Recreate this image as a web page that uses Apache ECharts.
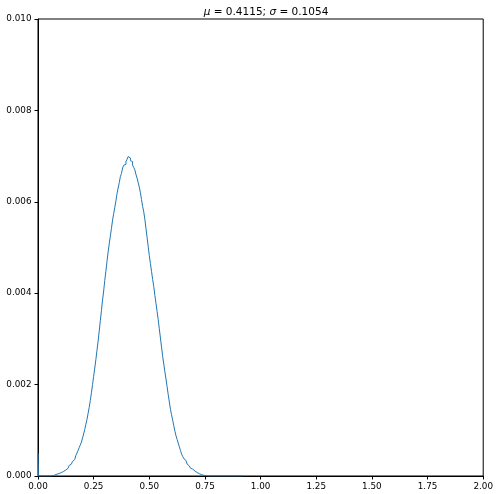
<!DOCTYPE html>
<html>
<head>
<meta charset="utf-8">
<script src="https://cdn.jsdelivr.net/npm/echarts@6/dist/echarts.min.js"></script>
<style>
html,body{margin:0;padding:0;background:#fff;}
#chart{width:496px;height:494px;}
</style>
</head>
<body>
<div id="chart"></div>
<script type="text/javascript">
// bin left edges of the step histogram (last one closes the curve)
var binEdges = [0, 0.002,
  0.055, 0.060, 0.065, 0.070, 0.075, 0.080, 0.085, 0.090, 0.095, 0.100,
  0.105, 0.110, 0.115, 0.120, 0.125, 0.130, 0.135, 0.140, 0.145, 0.150,
  0.155, 0.160, 0.165, 0.170, 0.175, 0.180, 0.185, 0.190, 0.195, 0.200,
  0.205, 0.210, 0.215, 0.220, 0.225, 0.230, 0.235, 0.240, 0.245, 0.250,
  0.255, 0.260, 0.265, 0.270, 0.275, 0.280, 0.285, 0.290, 0.295, 0.300,
  0.305, 0.310, 0.315, 0.320, 0.325, 0.330, 0.335, 0.340, 0.345, 0.350,
  0.355, 0.360, 0.365, 0.370, 0.375, 0.380, 0.385, 0.390, 0.395, 0.400,
  0.405, 0.410, 0.415, 0.420, 0.425, 0.430, 0.435, 0.440, 0.445, 0.450,
  0.455, 0.460, 0.465, 0.470, 0.475, 0.480, 0.485, 0.490, 0.495, 0.500,
  0.505, 0.510, 0.515, 0.520, 0.525, 0.530, 0.535, 0.540, 0.545, 0.550,
  0.555, 0.560, 0.565, 0.570, 0.575, 0.580, 0.585, 0.590, 0.595, 0.600,
  0.605, 0.610, 0.615, 0.620, 0.625, 0.630, 0.635, 0.640, 0.645, 0.650,
  0.655, 0.660, 0.665, 0.670, 0.675, 0.680, 0.685, 0.690, 0.695, 0.700,
  0.705, 0.710, 0.715, 0.720, 0.725, 0.730, 0.735, 0.740, 0.745, 0.750,
  0.755, 0.760, 0.765, 0.770, 0.775,
  0.92];
// bin heights, in thousandths
var binHeightsE3 = [0.5, 0,
  0.002, 0.005, 0.01, 0.02, 0.03, 0.04, 0.05, 0.055, 0.065, 0.075,
  0.085, 0.10, 0.115, 0.13, 0.15, 0.17, 0.20, 0.23, 0.26, 0.29,
  0.32, 0.36, 0.40, 0.45, 0.50, 0.56, 0.62, 0.68, 0.74, 0.83,
  0.92, 1.02, 1.13, 1.24, 1.37, 1.50, 1.65, 1.82, 2.00, 2.18,
  2.36, 2.55, 2.75, 2.95, 3.17, 3.40, 3.62, 3.85, 4.05, 4.28,
  4.48, 4.70, 4.90, 5.08, 5.25, 5.42, 5.60, 5.74, 5.88, 6.02,
  6.18, 6.30, 6.42, 6.55, 6.62, 6.74, 6.80, 6.82, 6.88, 6.93,
  6.99, 6.96, 6.90, 6.88, 6.80, 6.75, 6.70, 6.60, 6.52, 6.42,
  6.32, 6.20, 6.05, 5.90, 5.78, 5.62, 5.42, 5.22, 5.02, 4.82,
  4.65, 4.48, 4.30, 4.15, 3.95, 3.78, 3.60, 3.42, 3.22, 3.02,
  2.82, 2.62, 2.45, 2.28, 2.12, 1.95, 1.78, 1.62, 1.46, 1.34,
  1.22, 1.10, 0.98, 0.88, 0.80, 0.72, 0.64, 0.56, 0.48, 0.43,
  0.38, 0.34, 0.30, 0.26, 0.22, 0.19, 0.17, 0.15, 0.13, 0.11,
  0.09, 0.075, 0.06, 0.05, 0.04, 0.03, 0.022, 0.015, 0.01, 0.007,
  0.005, 0.003, 0.002, 0.001, 0.0005,
  0];
var xTicks = [0, 0.25, 0.5, 0.75, 1, 1.25, 1.5, 1.75, 2];
var yTicks = [0, 0.002, 0.004, 0.006, 0.008, 0.010];
var mu = '0.4115', sigma = '0.1054';

var data = [];
for (var i = 0; i < binEdges.length; i++) {
  data.push([binEdges[i], binHeightsE3[i] / 1000]);
}

var myChart = echarts.init(document.getElementById('chart'));
myChart.setOption({
  animation: false,
  title: {
    text: '{i|μ} = ' + mu + '; {i|σ} = ' + sigma,
    left: 261,
    top: 2,
    textAlign: 'center',
    textStyle: {
      fontFamily: 'DejaVu Sans',
      fontSize: 10.5,
      fontWeight: 'normal',
      color: '#000',
      rich: {
        i: { fontFamily: 'DejaVu Sans', fontSize: 10.5, fontStyle: 'italic', color: '#000' }
      }
    }
  },
  grid: {
    left: 38, right: 12, top: 19, bottom: 18,
    show: true, borderColor: '#000', borderWidth: 1
  },
  xAxis: {
    type: 'value',
    min: xTicks[0], max: xTicks[xTicks.length - 1], interval: 0.25,
    splitLine: { show: false },
    axisLine: { lineStyle: { color: '#000' } },
    axisTick: { length: 3.5, lineStyle: { color: '#000' } },
    axisLabel: {
      margin: 6, fontFamily: 'DejaVu Sans', fontSize: 8.8, color: '#000',
      formatter: function (v) { return v.toFixed(2); }
    }
  },
  yAxis: {
    type: 'value',
    min: yTicks[0], max: yTicks[yTicks.length - 1], interval: 0.002,
    splitLine: { show: false },
    axisLine: { show: true, lineStyle: { color: '#000' } },
    axisTick: { show: true, length: 3.5, lineStyle: { color: '#000' } },
    axisLabel: {
      margin: 6.5, fontFamily: 'DejaVu Sans', fontSize: 8.8, color: '#000',
      formatter: function (v) { return v.toFixed(3); }
    }
  },
  series: [{
    type: 'line',
    step: 'end',
    showSymbol: false,
    data: data,
    lineStyle: { width: 1, color: '#1f77b4' },
    itemStyle: { color: '#1f77b4' }
  }]
});
</script>
</body>
</html>
